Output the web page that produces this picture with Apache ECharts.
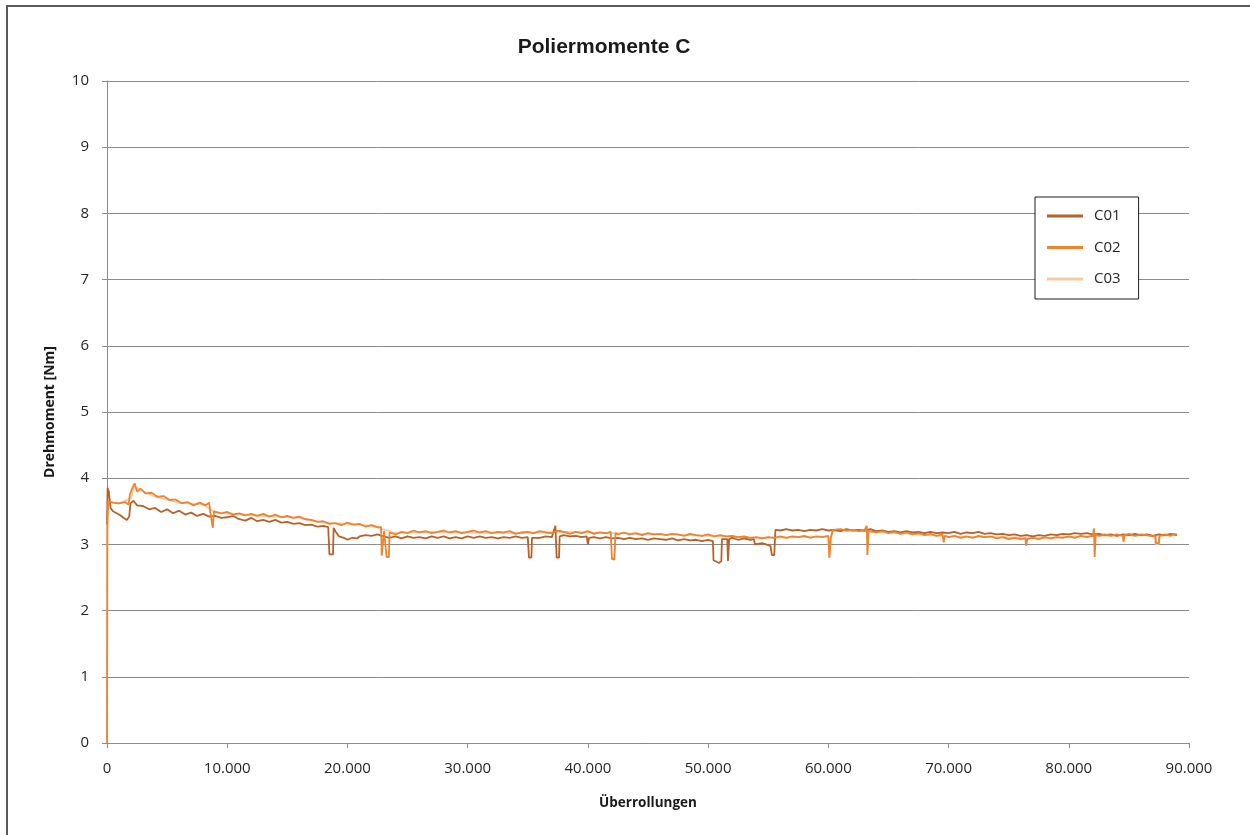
<!DOCTYPE html>
<html>
<head>
<meta charset="utf-8">
<script src="https://cdn.jsdelivr.net/npm/echarts@6/dist/echarts.min.js"></script>
<style>
  html, body { margin: 0; padding: 0; background: #fff; }
  #chart { width: 1250px; height: 835px; }
</style>
</head>
<body>
<div id="chart"></div>
<script>
// Polishing torque over number of rollovers, three test runs
const seriesNames = ['C01', 'C02', 'C03'];

const xTicks = [0, 10000, 20000, 30000, 40000, 50000, 60000, 70000, 80000, 90000];
const yTicks = [0, 1, 2, 3, 4, 5, 6, 7, 8, 9, 10];

// C01: rollovers / torque [Nm]
const c01X = [0, 50, 150, 300, 500, 800, 1100, 1400, 1650, 1850, 1950, 2200, 2500, 3000, 3500, 4000, 4500, 5000, 5500, 6000, 6500, 7000, 7500, 8000, 8500, 9000, 9500, 10000, 10500, 11000, 11500, 12000, 12500, 13000, 13500, 14000, 14500, 15000, 15500, 16000, 16500, 17000, 17500, 18000, 18400, 18500, 18800, 18850, 19000, 19300, 19700, 20000, 20400, 20800, 21000, 21500, 22000, 22500,
  23000, 23500, 24000, 24500, 25000, 25500, 26000, 26500, 27000, 27500, 28000, 28500, 29000, 29500, 30000, 30500, 31000, 31500, 32000, 32500, 33000, 33500, 34000, 34500, 35000, 35100, 35300, 35350, 35500, 36000, 36500, 37000, 37300, 37400, 37600, 37650, 38000, 38500, 39000, 39500, 39900, 40000, 40100, 40500, 41000, 41500, 42000, 42500, 43000, 43500, 44000, 44500, 45000, 45500, 46000, 46500, 47000, 47500, 48000, 48500, 49000, 49500, 50000, 50400, 50450, 50900, 51100, 51150, 51600, 51650, 51750, 52000, 52500, 53000, 53500, 53800, 53900, 54500, 55000, 55200, 55300, 55500, 55600,
  56000, 56500, 57000, 57500, 58000, 58500, 59000, 59500, 60000, 60500, 61000, 61500, 62000, 62500, 63000, 63500, 64000, 64500, 65000, 65500, 66000, 66500, 67000, 67500, 68000, 68500, 69000, 69500, 70000, 70500, 71000, 71500, 72000, 72500, 73000, 73500, 74000, 74500, 75000, 75500, 76000, 76500, 77000, 77500, 78000, 78500, 79000, 79500, 80000, 80500, 81000, 81500, 82000, 82500, 83000, 83500, 84000, 84500, 85000, 85500, 86000, 86500, 87000, 87500, 88000, 88500, 89000];
const c01Y = [3.30, 3.85, 3.80, 3.55, 3.50, 3.47, 3.44, 3.40, 3.37, 3.42, 3.62, 3.66, 3.59, 3.58, 3.53, 3.55, 3.49, 3.53, 3.47, 3.51, 3.45, 3.48, 3.43, 3.46, 3.42, 3.43, 3.40, 3.41, 3.43, 3.38, 3.36, 3.40, 3.35, 3.37, 3.34, 3.37, 3.33, 3.34, 3.31, 3.32, 3.29, 3.30, 3.27, 3.28, 3.26, 2.85, 2.85, 3.25, 3.20, 3.12, 3.10, 3.07, 3.10, 3.09, 3.12, 3.14, 3.13, 3.15,
  3.12, 3.10, 3.12, 3.09, 3.12, 3.10, 3.11, 3.09, 3.12, 3.10, 3.12, 3.09, 3.11, 3.09, 3.12, 3.10, 3.12, 3.10, 3.11, 3.09, 3.11, 3.10, 3.12, 3.10, 3.11, 2.80, 2.80, 3.10, 3.12, 3.10, 3.12, 3.11, 3.28, 2.80, 2.80, 3.12, 3.14, 3.12, 3.13, 3.11, 3.12, 3.00, 3.10, 3.11, 3.09, 3.11, 3.09, 3.10, 3.08, 3.10, 3.08, 3.09, 3.07, 3.09, 3.08, 3.07, 3.09, 3.06, 3.08, 3.06, 3.07, 3.05, 3.07, 3.05, 2.76, 2.72, 2.75, 3.08, 3.08, 2.75, 3.08, 3.10, 3.07, 3.09, 3.07, 3.08, 3.00, 3.02, 2.99, 2.97, 2.84, 2.84, 3.22,
  3.21, 3.23, 3.21, 3.22, 3.20, 3.22, 3.21, 3.23, 3.21, 3.22, 3.20, 3.23, 3.21, 3.22, 3.21, 3.23, 3.20, 3.21, 3.19, 3.20, 3.18, 3.20, 3.18, 3.19, 3.17, 3.19, 3.17, 3.18, 3.17, 3.19, 3.16, 3.18, 3.17, 3.19, 3.16, 3.17, 3.15, 3.16, 3.14, 3.15, 3.13, 3.14, 3.12, 3.14, 3.13, 3.15, 3.14, 3.16, 3.15, 3.17, 3.16, 3.17, 3.15, 3.16, 3.14, 3.15, 3.13, 3.15, 3.14, 3.16, 3.14, 3.15, 3.13, 3.15, 3.14, 3.16, 3.14];

// C02: rollovers / torque [Nm]
const c02X = [0, 30, 100, 500, 1000, 1500, 1800, 1900, 2100, 2300, 2500, 2800, 3200, 3700, 4200, 4700, 5200, 5700, 6200, 6700, 7200, 7700, 8200, 8500, 8600, 8800, 8900, 9500, 10000, 10500, 11000, 11500, 12000, 12500, 13000, 13500, 14000, 14500, 15000, 15500, 16000, 16500, 17000, 17500, 18000, 18500, 19000, 19500, 20000, 20500, 21000, 21500, 22000, 22500, 22800, 22850, 23000, 23050, 23200, 23250, 23450,
  23500, 24000, 24500, 25000, 25500, 26000, 26500, 27000, 27500, 28000, 28500, 29000, 29500, 30000, 30500, 31000, 31500, 32000, 32500, 33000, 33500, 34000, 34500, 35000, 35500, 36000, 36500, 37000, 37500, 38000, 38500, 39000, 39500, 40000, 40500, 41000, 41500, 41900, 42000, 42200, 42300, 42500, 43000, 43500, 44000, 44500, 45000, 45500, 46000, 46500, 47000, 47500, 48000, 48500, 49000, 49500, 50000, 50500, 51000, 51500, 52000, 52500, 53000, 53500, 54000, 54500, 55000, 55500, 56000, 56500, 57000, 57500, 58000, 58500, 59000, 59500, 60000, 60100, 60200, 60400,
  60500, 61000, 61500, 62000, 62500, 63000, 63200, 63250, 63350, 63500, 64000, 64500, 65000, 65500, 66000, 66500, 67000, 67500, 68000, 68500, 69000, 69500, 69600, 69700, 70000, 70500, 71000, 71500, 72000, 72500, 73000, 73500, 74000, 74500, 75000, 75500, 76000, 76400, 76450, 76550, 77000, 77500, 78000, 78500, 79000, 79500, 80000, 80500, 81000, 81500, 82000, 82100, 82150, 82250, 82500, 83000, 83500, 84000, 84500, 84550, 84650, 85000, 85500, 86000, 86500, 87000, 87200, 87250, 87500, 87550, 88000, 88500, 88600, 88700, 89000];
const c02Y = [0.00, 3.30, 3.65, 3.63, 3.62, 3.64, 3.60, 3.75, 3.85, 3.92, 3.80, 3.84, 3.77, 3.78, 3.72, 3.73, 3.67, 3.68, 3.62, 3.64, 3.59, 3.63, 3.59, 3.63, 3.48, 3.25, 3.50, 3.47, 3.49, 3.45, 3.47, 3.44, 3.46, 3.43, 3.46, 3.42, 3.45, 3.41, 3.43, 3.40, 3.42, 3.38, 3.37, 3.34, 3.35, 3.31, 3.32, 3.29, 3.33, 3.30, 3.31, 3.27, 3.29, 3.26, 3.26, 2.83, 2.83, 3.20, 3.22, 2.81, 2.81,
  3.18, 3.15, 3.19, 3.17, 3.21, 3.18, 3.20, 3.17, 3.19, 3.21, 3.18, 3.20, 3.17, 3.19, 3.21, 3.18, 3.20, 3.17, 3.19, 3.18, 3.20, 3.16, 3.18, 3.19, 3.17, 3.20, 3.18, 3.17, 3.21, 3.19, 3.16, 3.19, 3.17, 3.20, 3.16, 3.18, 3.17, 3.19, 2.78, 2.77, 3.17, 3.15, 3.18, 3.15, 3.17, 3.14, 3.17, 3.15, 3.16, 3.14, 3.16, 3.15, 3.13, 3.16, 3.14, 3.13, 3.15, 3.12, 3.14, 3.12, 3.13, 3.11, 3.12, 3.10, 3.11, 3.09, 3.11, 3.10, 3.12, 3.10, 3.12, 3.11, 3.13, 3.10, 3.12, 3.11, 3.13, 2.80, 3.10, 3.22,
  3.21, 3.23, 3.21, 3.22, 3.20, 3.21, 3.28, 2.84, 3.20, 3.21, 3.18, 3.20, 3.17, 3.19, 3.16, 3.18, 3.15, 3.17, 3.14, 3.16, 3.13, 3.15, 3.03, 3.13, 3.11, 3.13, 3.10, 3.12, 3.10, 3.13, 3.11, 3.12, 3.09, 3.11, 3.08, 3.10, 3.08, 3.09, 2.98, 3.08, 3.10, 3.08, 3.11, 3.09, 3.11, 3.10, 3.12, 3.10, 3.13, 3.11, 3.13, 3.24, 2.81, 3.15, 3.13, 3.15, 3.13, 3.15, 3.13, 3.04, 3.14, 3.16, 3.13, 3.15, 3.14, 3.12, 3.14, 3.02, 3.02, 3.13, 3.15, 3.13, 3.10, 3.16, 3.15];

// C03: rollovers / torque [Nm]
const c03X = [0, 30, 100, 1000, 2000, 2300, 3000, 4000, 6000, 8000, 9000, 12000, 14000, 16000, 18000, 20000, 22000, 24000, 26000, 30000, 34000, 38000, 42000, 46000, 50000, 54000, 58000, 60000, 60050, 60150, 60300, 62000, 66000, 70000, 74000, 78000, 82000, 86000, 87150, 87200, 87500, 87550, 89000];
const c03Y = [0.00, 3.30, 3.64, 3.62, 3.70, 3.88, 3.80, 3.72, 3.63, 3.60, 3.48, 3.44, 3.42, 3.40, 3.33, 3.31, 3.28, 3.17, 3.19, 3.18, 3.17, 3.19, 3.17, 3.15, 3.13, 3.10, 3.11, 3.12, 2.80, 2.80, 3.20, 3.21, 3.17, 3.12, 3.11, 3.10, 3.13, 3.14, 3.13, 3.01, 3.01, 3.13, 3.14];

const colors = ['#B5622B', '#EC8430', '#F9C9A2'];

function pairs(xs, ys) { return xs.map((x, i) => [x, ys[i]]); }

const chart = echarts.init(document.getElementById('chart'), null, { renderer: 'canvas' });

const labelFont = '"Open Sans", "DejaVu Sans", sans-serif';
const gridColor = '#8a8a8a';

chart.setOption({
  animation: false,
  backgroundColor: '#ffffff',
  color: colors,
  title: {
    text: 'Poliermomente C',
    left: 599,
    textAlign: 'center',
    top: 32,
    textStyle: { fontFamily: '"Liberation Sans", Arial, sans-serif', fontWeight: 'bold', fontSize: 21, color: '#1a1a1a' }
  },
  graphic: [{
    type: 'rect',
    shape: { x: 7, y: 6, width: 1300, height: 900 },
    style: { fill: 'none', stroke: '#5a5a5a', lineWidth: 2 },
    silent: true
  }],
  legend: {
    orient: 'vertical',
    left: 1035,
    top: 197,
    width: 104,
    padding: [9, 18, 10, 12],
    itemGap: 11.5,
    itemWidth: 36,
    itemHeight: 3,
    icon: 'rect',
    borderColor: '#1a1a1a',
    borderWidth: 1,
    backgroundColor: '#ffffff',
    data: seriesNames,
    textStyle: { fontFamily: labelFont, fontSize: 15, color: '#262626', padding: [0, 0, 0, 6], lineHeight: 20 }
  },
  grid: { left: 107, right: 61, top: 81, bottom: 92, containLabel: false },
  xAxis: {
    type: 'value',
    min: 0,
    max: 90000,
    interval: 10000,
    name: 'Überrollungen',
    nameLocation: 'middle',
    nameGap: 53,
    nameTextStyle: { fontFamily: labelFont, fontWeight: 'bold', fontSize: 13.5, color: '#1a1a1a' },
    axisLine: { show: true, lineStyle: { color: gridColor, width: 1 } },
    axisTick: { show: true, length: 5, lineStyle: { color: gridColor } },
    axisLabel: {
      margin: 18,
      fontFamily: labelFont, fontSize: 15, color: '#262626',
      formatter: v => v === 0 ? '0' : (v / 1000) + '.000'
    },
    splitLine: { show: false }
  },
  yAxis: {
    type: 'value',
    min: 0,
    max: 10,
    interval: 1,
    name: 'Drehmoment [Nm]',
    nameLocation: 'middle',
    nameGap: 50,
    nameRotate: 90,
    nameTextStyle: { fontFamily: labelFont, fontWeight: 'bold', fontSize: 14, color: '#1a1a1a' },
    axisLine: { show: true, lineStyle: { color: gridColor, width: 1 } },
    axisTick: { show: true, length: 5, lineStyle: { color: gridColor } },
    axisLabel: { margin: 18, fontFamily: labelFont, fontSize: 15, color: '#262626' },
    splitLine: { show: true, lineStyle: { color: gridColor, width: 1 } }
  },
  series: [
    { name: 'C01', type: 'line', data: pairs(c01X, c01Y), symbol: 'none', z: 3, lineStyle: { width: 1.8, color: colors[0] } },
    { name: 'C02', type: 'line', data: pairs(c02X, c02Y), symbol: 'none', z: 4, lineStyle: { width: 1.8, color: colors[1] } },
    { name: 'C03', type: 'line', data: pairs(c03X, c03Y), symbol: 'none', z: 2, lineStyle: { width: 1.8, color: colors[2] } }
  ]
});
</script>
</body>
</html>
